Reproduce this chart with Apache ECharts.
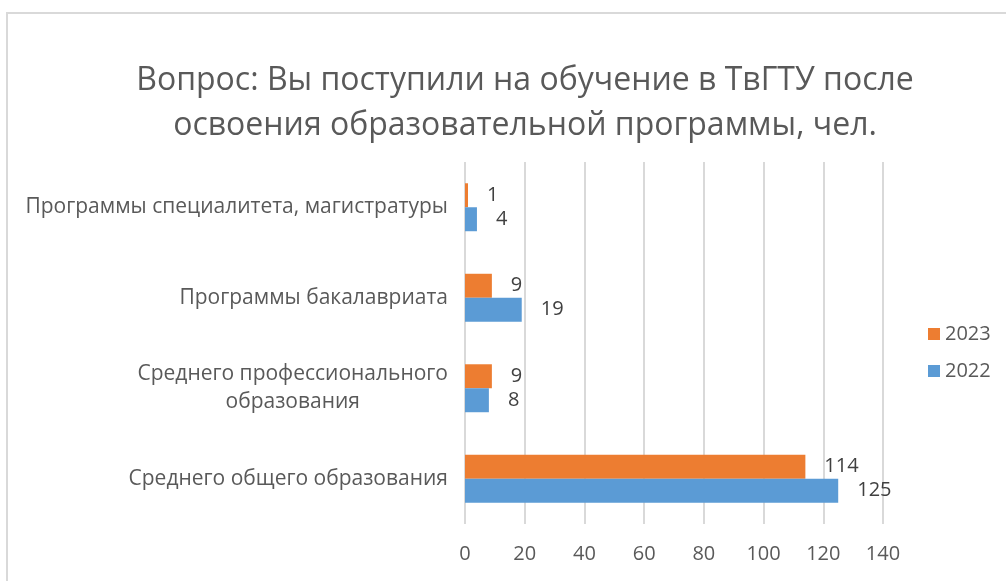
<!DOCTYPE html>
<html>
<head>
<meta charset="utf-8">
<script src="https://cdn.jsdelivr.net/npm/echarts@6/dist/echarts.min.js"></script>
<style>
    html, body { margin: 0; padding: 0; background: #fff; }
    #chart { width: 1006px; height: 581px; }
</style>
</head>
<body>
<div id="chart"></div>
<script>
    // категории снизу вверх
    var categories = [
        'Среднего общего образования',
        'Среднего профессионального\nобразования',
        'Программы бакалавриата',
        'Программы специалитета, магистратуры'
    ]
    var values2023 = [114, 9, 9, 1]
    var values2022 = [125, 8, 19, 4]
    var xTicks = [0, 140, 20]   // min, max, interval

    var font = '"Open Sans", sans-serif'
    var textColor = '#595959'

    function barLabel() {
        return { show: true, position: 'right', distance: 19, fontSize: 20, color: '#404040', fontFamily: font }
    }

    var chart = echarts.init(document.getElementById('chart'))
    chart.setOption({
        animation: false,
        textStyle: { fontFamily: font },
        title: {
            text: 'Вопрос: Вы поступили на обучение в ТвГТУ после\nосвоения образовательной программы, чел.',
            left: 525,
            textAlign: 'center',
            top: 58,
            padding: 0,
            textStyle: {
                fontFamily: font,
                fontSize: 32,
                fontWeight: 'normal',
                color: textColor,
                lineHeight: 45
            }
        },
        legend: {
            data: ['2023', '2022'],
            orient: 'vertical',
            left: 923,
            top: 319,
            itemWidth: 12,
            itemHeight: 12,
            itemGap: 17,
            icon: 'rect',
            textStyle: { fontFamily: font, fontSize: 20, color: textColor }
        },
        grid: {
            left: 465,
            right: 123,
            top: 162,
            bottom: 57
        },
        xAxis: {
            type: 'value',
            min: xTicks[0],
            max: xTicks[1],
            interval: xTicks[2],
            axisLine: { show: false },
            axisTick: { show: false },
            splitLine: { lineStyle: { color: '#d9d9d9', width: 2 } },
            axisLabel: { margin: 20, fontSize: 20, color: textColor, fontFamily: font }
        },
        yAxis: {
            type: 'category',
            data: categories,
            axisLine: { show: false },
            axisTick: { show: false },
            axisLabel: {
                margin: 17,
                fontSize: 21,
                color: textColor,
                fontFamily: font,
                lineHeight: 28,
                formatter: function (val) {
                    var parts = val.split('\n')
                    if (parts.length < 2) return val
                    return '{a|' + parts[0] + '}\n{b|' + parts[1] + '}'
                },
                rich: {
                    a: { fontSize: 21, color: textColor, fontFamily: font, lineHeight: 28 },
                    b: { fontSize: 21, color: textColor, fontFamily: font, lineHeight: 28, align: 'center' }
                }
            }
        },
        series: [
            {
                name: '2023',
                type: 'bar',
                data: values2023,
                barGap: '0%',
                barCategoryGap: '47%',
                itemStyle: { color: '#ED7D31' },
                label: barLabel()
            },
            {
                name: '2022',
                type: 'bar',
                data: values2022,
                barGap: '0%',
                barCategoryGap: '47%',
                itemStyle: { color: '#5B9BD5' },
                label: barLabel()
            }
        ],
        graphic: [
            {
                type: 'rect',
                silent: true,
                shape: { x: 7, y: 13, width: 1100, height: 700 },
                style: { fill: 'none', stroke: '#d9d9d9', lineWidth: 2 }
            }
        ]
    })
</script>
</body>
</html>
